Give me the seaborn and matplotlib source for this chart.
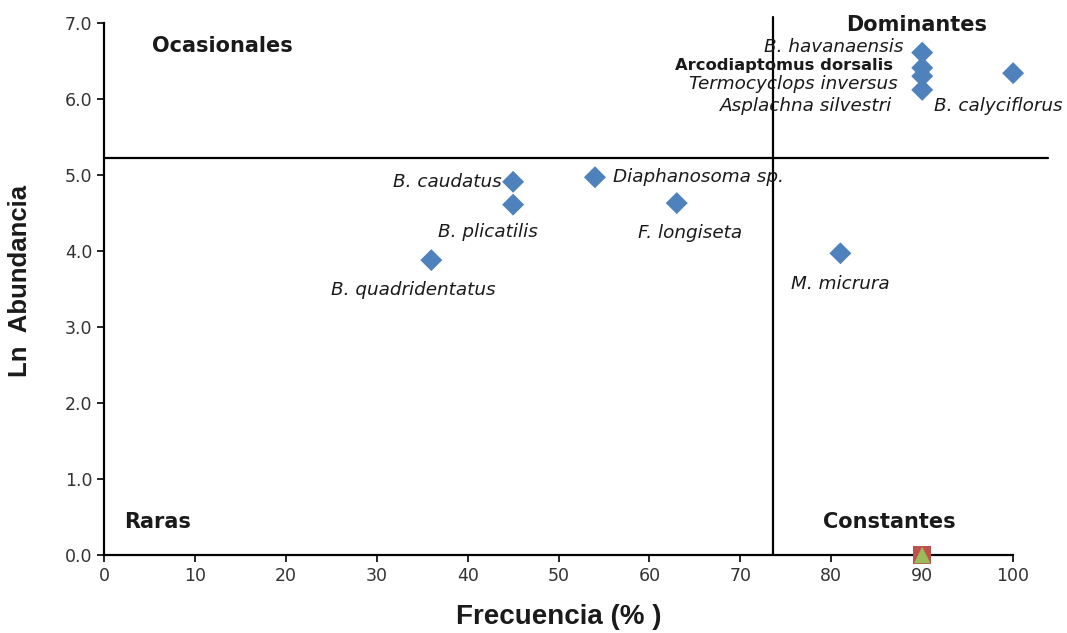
import matplotlib
matplotlib.use("Agg")
import matplotlib.pyplot as plt
import seaborn as sns
import pandas as pd

species = ["B. havanaensis", "Arcodiaptomus dorsalis", "Termocyclops inversus",
           "Asplachna silvestri", "B. calyciflorus", "B. caudatus", "Diaphanosoma sp.",
           "B. plicatilis", "F. longiseta", "B. quadridentatus", "M. micrura"]
frecuencia = [90, 90, 90, 90, 100, 45, 54, 45, 63, 36, 81]
ln_abundancia = [6.61, 6.41, 6.30, 6.12, 6.34, 4.91, 4.97, 4.61, 4.63, 3.88, 3.97]

extra_x = [90]
extra_y = [0.0]

freq_cut = 73.6
abund_cut = 5.22

quadrants = ["Ocasionales", "Dominantes", "Raras", "Constantes"]

# label style: (dx px, dy px, ha, weight, style)
label_style = {
    "B. havanaensis": (-19, 6, "right", "normal", "italic"),
    "Arcodiaptomus dorsalis": (-29, 2, "right", "bold", "normal"),
    "Termocyclops inversus": (-24, -8, "right", "normal", "italic"),
    "Asplachna silvestri": (-30, -16, "right", "normal", "italic"),
    "B. calyciflorus": (-15, -33, "center", "normal", "italic"),
    "B. caudatus": (-11, 0, "right", "normal", "italic"),
    "Diaphanosoma sp.": (18, 0, "left", "normal", "italic"),
    "B. plicatilis": (-25, -27, "center", "normal", "italic"),
    "F. longiseta": (13, -30, "center", "normal", "italic"),
    "B. quadridentatus": (-18, -30, "center", "normal", "italic"),
    "M. micrura": (0, -31, "center", "normal", "italic"),
}

sns.set_theme(style="white")
plt.rcParams["font.family"] = ["DejaVu Sans"]

fig = plt.figure(figsize=(10.67, 6.33), dpi=100)
ax = fig.add_axes([0.0975, 0.1232, 0.852, 0.8405])

df = pd.DataFrame({"Frecuencia": frecuencia, "LnAb": ln_abundancia, "sp": species})
sns.scatterplot(data=df, x="Frecuencia", y="LnAb", marker="D", s=125,
                color="#4F81BD", edgecolor="none", ax=ax, zorder=4, clip_on=False)
sns.scatterplot(x=extra_x, y=extra_y, marker="s", s=160, color="#C0504D",
                edgecolor="none", ax=ax, zorder=5, clip_on=False)
sns.scatterplot(x=extra_x, y=extra_y, marker="^", s=140, color="#9BBB59",
                edgecolor="none", ax=ax, zorder=6, clip_on=False)

for sp, fx, fy in zip(species, frecuencia, ln_abundancia):
    dx, dy, ha, w, st = label_style[sp]
    size = 11.8 if w == "bold" else 13.2
    ax.annotate(sp, (fx, fy), xytext=(dx, dy), textcoords="offset pixels",
                ha=ha, va="center", fontsize=size, fontweight=w, fontstyle=st,
                color="#1a1a1a", zorder=7, annotation_clip=False)

ax.axvline(freq_cut, ymin=0, ymax=1.012, color="black", lw=1.6, clip_on=False, zorder=3)
ax.axhline(abund_cut, xmin=0, xmax=1.0385, color="black", lw=1.6, clip_on=False, zorder=3)

qfont = dict(fontsize=15, fontweight="bold", color="#1a1a1a")
ax.text(5.3, 6.7, quadrants[0], ha="left", va="center", **qfont)
ax.text(81.6, 6.97, quadrants[1], ha="left", va="center", **qfont)
ax.text(2.2, 0.43, quadrants[2], ha="left", va="center", **qfont)
ax.text(79.1, 0.43, quadrants[3], ha="left", va="center", **qfont)

ax.set_xlim(0, 100)
ax.set_ylim(0, 7)
ax.set_xticks(range(0, 101, 10))
ax.set_yticks([i for i in range(0, 8)])
ax.set_yticklabels([f"{i:.1f}" for i in range(0, 8)])
ax.tick_params(axis="both", direction="out", length=5, width=1.2, color="black",
               labelsize=12.5, labelcolor="#333333", bottom=True, left=True)
for s in ["top", "right"]:
    ax.spines[s].set_visible(False)
for s in ["left", "bottom"]:
    ax.spines[s].set_color("black")
    ax.spines[s].set_linewidth(1.6)

ax.set_xlabel("Frecuencia (% )", fontsize=20, fontweight="bold", family="Liberation Sans",
              color="#1a1a1a", labelpad=14)
ax.set_ylabel("Ln  Abundancia", fontsize=18.5, fontweight="bold", family="Liberation Sans",
              color="#1a1a1a")
ax.yaxis.set_label_coords(-0.079, 0.515)
ax.grid(False)

fig.savefig("out.png", dpi=100)
